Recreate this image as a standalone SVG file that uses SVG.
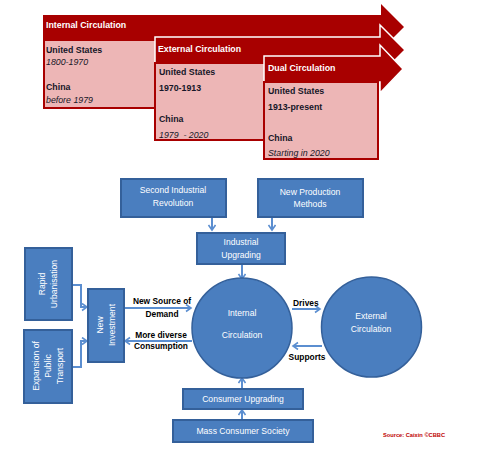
<svg xmlns="http://www.w3.org/2000/svg" width="489" height="449" viewBox="0 0 489 449">
<defs>
<style>
.arr{fill:#A80000;}
.arrw{fill:#A80000;stroke:#fff;stroke-width:1.5;}
.pink{fill:#EDB6B6;stroke:#A80000;stroke-width:2;}
.hd{font-family:"Liberation Sans",Arial,sans-serif;font-size:8.8px;font-weight:bold;fill:#fff;}
.tb{font-family:"Liberation Sans",Arial,sans-serif;font-size:8.8px;font-weight:bold;fill:#161628;}
.ti{font-family:"Liberation Sans",Arial,sans-serif;font-size:8.8px;font-style:italic;fill:#161628;}
.box{fill:#4A7EBF;stroke:#34609A;stroke-width:2;}
.circ{fill:#4A7EBF;stroke:#34609A;stroke-width:1.5;}
.wt{font-family:"Liberation Sans",Arial,sans-serif;font-size:8.6px;fill:#fff;text-anchor:middle;}
.lb{font-family:"Liberation Sans",Arial,sans-serif;font-size:8.4px;font-weight:bold;fill:#000;text-anchor:middle;}
.con{fill:none;stroke:#5B8ED0;stroke-width:2;}
.src{font-family:"Liberation Sans",Arial,sans-serif;font-size:5.7px;font-weight:bold;fill:#C00000;}
</style>
<marker id="ah" markerUnits="userSpaceOnUse" markerWidth="10" markerHeight="10" refX="6" refY="4" orient="auto">
<path d="M1,0.5 L6,4 L1,7.5" fill="none" stroke="#5B8ED0" stroke-width="1.6"/>
</marker>
</defs>
<rect width="489" height="449" fill="#fff"/>

<g id="internal-timeline">
<path class="arr" d="M43,15 H381 V4 L404,27 L381,50 V40 H43 Z"/>
<rect class="pink" x="44" y="40" width="120" height="68"/>
<text class="hd" x="46" y="28">Internal Circulation</text>
<text class="tb" x="46" y="53">United States</text>
<text class="ti" x="46" y="65">1800-1970</text>
<text class="tb" x="46" y="90">China</text>
<text class="ti" x="46" y="103">before 1979</text>
</g>

<g id="external-timeline">
<path class="arrw" d="M155,37 H380 V25 L405,50 L380,75 V63 H155 Z"/>
<rect class="pink" x="155" y="63" width="115" height="77"/>
<text class="hd" x="158" y="52">External Circulation</text>
<text class="tb" x="159" y="75">United States</text>
<text class="tb" x="159" y="91">1970-1913</text>
<text class="tb" x="159" y="122">China</text>
<text class="ti" x="159" y="138" xml:space="preserve">1979  - 2020</text>
</g>

<g id="dual-timeline">
<path class="arrw" d="M264,56 H380 V45 L403,69 L380,93 V82 H264 Z"/>
<rect class="pink" x="264" y="82" width="114" height="77"/>
<text class="hd" x="268" y="71">Dual Circulation</text>
<text class="tb" x="268" y="94">United States</text>
<text class="tb" x="268" y="110">1913-present</text>
<text class="tb" x="268" y="141">China</text>
<text class="ti" x="268" y="156">Starting in 2020</text>
</g>

<g id="connectors">
<path class="con" d="M212,217 V230" marker-end="url(#ah)"/>
<path class="con" d="M272,217 V230" marker-end="url(#ah)"/>
<path class="con" d="M242,264 V279" marker-end="url(#ah)"/>
<path class="con" d="M292,309 H320" marker-end="url(#ah)"/>
<path class="con" d="M322,346 H293" marker-end="url(#ah)"/>
<path class="con" d="M124,308 H191" marker-end="url(#ah)"/>
<path class="con" d="M192,341 H125" marker-end="url(#ah)"/>
<path class="con" d="M72,285 H81 V307 H87" marker-end="url(#ah)"/>
<path class="con" d="M72,367 H81 V341 H87" marker-end="url(#ah)"/>
<path class="con" d="M242,420 V410" marker-end="url(#ah)"/>
<path class="con" d="M242,388 V378" marker-end="url(#ah)"/>
<text class="lb" x="293" y="306" style="text-anchor:start">Drives</text>
<text class="lb" x="307" y="360">Supports</text>
<text class="lb" x="162" y="304">New Source of</text>
<text class="lb" x="162" y="317">Demand</text>
<text class="lb" x="161" y="338">More diverse</text>
<text class="lb" x="161" y="349">Consumption</text>
</g>

<g id="second-industrial-revolution">
<rect class="box" x="121" y="179" width="105" height="38"/>
<text class="wt" x="173" y="193">Second Industrial</text>
<text class="wt" x="173" y="206">Revolution</text>
</g>

<g id="new-production-methods">
<rect class="box" x="258" y="179" width="105" height="38"/>
<text class="wt" x="310" y="195">New Production</text>
<text class="wt" x="310" y="207">Methods</text>
</g>

<g id="industrial-upgrading">
<rect class="box" x="197" y="233" width="88" height="31"/>
<text class="wt" x="241" y="245">Industrial</text>
<text class="wt" x="241" y="258">Upgrading</text>
</g>

<g id="internal-circulation">
<circle class="circ" cx="242" cy="328" r="50"/>
<text class="wt" x="242" y="316">Internal</text>
<text class="wt" x="242" y="338">Circulation</text>
</g>

<g id="external-circulation">
<circle class="circ" cx="371.5" cy="327" r="50"/>
<text class="wt" x="371" y="319">External</text>
<text class="wt" x="371" y="332">Circulation</text>
</g>

<g id="rapid-urbanisation">
<rect class="box" x="25" y="248" width="47" height="72"/>
<text class="wt" transform="translate(48,284) rotate(-90)" x="0" y="-3">Rapid</text>
<text class="wt" transform="translate(48,284) rotate(-90)" x="0" y="9">Urbanisation</text>
</g>

<g id="expansion-public-transport">
<rect class="box" x="24" y="330" width="48" height="73"/>
<text class="wt" transform="translate(48,366) rotate(-90)" x="0" y="-9">Expansion of</text>
<text class="wt" transform="translate(48,366) rotate(-90)" x="0" y="3">Public</text>
<text class="wt" transform="translate(48,366) rotate(-90)" x="0" y="15">Transport</text>
</g>

<g id="new-investment">
<rect class="box" x="88" y="289" width="36" height="73"/>
<text class="wt" transform="translate(106,325) rotate(-90)" x="0" y="-3">New</text>
<text class="wt" transform="translate(106,325) rotate(-90)" x="0" y="9">Investment</text>
</g>

<g id="consumer-upgrading">
<rect class="box" x="183" y="389" width="120" height="20"/>
<text class="wt" x="243" y="402">Consumer Upgrading</text>
</g>

<g id="mass-consumer-society">
<rect class="box" x="173" y="420" width="140" height="22"/>
<text class="wt" x="243" y="434">Mass Consumer Society</text>
</g>

<text class="src" x="383" y="437">Source: Caixin ©CBBC</text>
</svg>
